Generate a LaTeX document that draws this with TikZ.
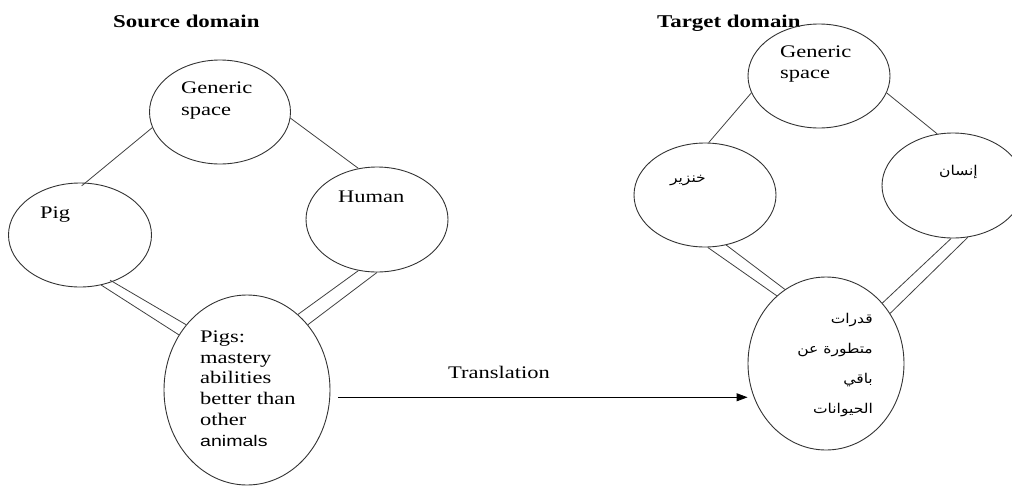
\documentclass[tikz,border=0pt]{standalone}
\usepackage{fontspec}
\setmainfont{Liberation Serif}[FakeStretch=1.27]
\newfontfamily\labelsans{Liberation Sans}[FakeStretch=1.27]
\newfontfamily\arabicfont[Script=Arabic,FakeStretch=1.15]{DejaVu Sans}
\TeXXeTstate=1
\usetikzlibrary{shapes.geometric,arrows.meta}

\begin{document}
\begin{tikzpicture}[x=1pt,y=-1pt,
  bubble/.style={draw=black!80, line width=0.9pt, ellipse, inner sep=0pt},
  link/.style={draw=black!75, line width=0.8pt},
  txt/.style={anchor=base west, inner sep=0pt, font=\fontsize{17.7}{20}\selectfont},
  head/.style={anchor=base west, inner sep=0pt, font=\fontsize{18}{20}\selectfont\bfseries},
  artxt/.style={anchor=base east, inner sep=0pt, font=\arabicfont\fontsize{13.5}{16}\selectfont},
  flow/.style={draw=black, line width=0.9pt, -{Triangle[length=11pt,width=8pt]}}
]
\useasboundingbox (0,0) rectangle (1012,485);

% ---------- source domain ----------
\node[head] (srchead) at (113,27) {Source domain};

\node[bubble, minimum width=141pt, minimum height=104pt] (gen1) at (220,112) {};
\node[bubble, minimum width=143pt, minimum height=104pt] (pig)  at (80,235) {};
\node[bubble, minimum width=142pt, minimum height=105pt] (hum)  at (377,219.5) {};
\node[bubble, minimum width=166pt, minimum height=190pt] (pigs) at (247,390) {};

\node[txt] (gen1a) at (181,93)  {Generic};
\node[txt] (gen1b) at (181,115) {space};
\node[txt] (pigt)  at (40,218)  {Pig};
\node[txt] (humt)  at (338,202) {Human};

\node[txt] (pl1) at (200,342) {Pigs:};
\node[txt] (pl2) at (200,363) {mastery};
\node[txt] (pl3) at (200,383) {abilities};
\node[txt] (pl4) at (200,404) {better than};
\node[txt] (pl5) at (200,425) {other};
\node[txt, font=\labelsans\fontsize{15.4}{18}\selectfont] (pl6) at (200,446) {animals};

% single links to the generic space
\draw[link, shorten >=-5pt] (gen1.193) -- (pig.84);
\draw[link] (gen1.355) -- (hum.110);

% double links to the blend
\draw[link, shorten <=-3pt] (pig.305) -- (pigs.133);
\draw[link] (pig.293) -- (pigs.141);
\draw[link] (hum.250) -- (pigs.56);
\draw[link] (hum.270) -- (pigs.47);

% ---------- target domain ----------
\node[head] (tgthead) at (657,27) {Target domain};

\node[bubble, minimum width=142pt, minimum height=104pt] (gen2) at (819,76) {};
\node[bubble, minimum width=142pt, minimum height=104pt] (khz)  at (705,195) {};
\node[bubble, minimum width=142pt, minimum height=105pt] (ins)  at (953,185.5) {};
\node[bubble, minimum width=156pt, minimum height=173pt] (tgt)  at (826,363.5) {};

\node[txt] (gen2a) at (780,57) {Generic};
\node[txt] (gen2b) at (780,78) {space};
\node[artxt] (khzt) at (706,182) {\beginR خنزير\endR};
\node[artxt] (inst) at (978,175) {\beginR إنسان\endR};

\node[artxt] (al1) at (873,323) {\beginR قدرات\endR};
\node[artxt] (al2) at (873,353) {\beginR متطورة عن\endR};
\node[artxt] (al3) at (873,383) {\beginR باقي\endR};
\node[artxt] (al4) at (873,413) {\beginR الحيوانات\endR};

\draw[link] (gen2.194) -- (khz.86);
\draw[link] (gen2.346) -- (ins.107);

\draw[link] (khz.273) -- (tgt.126);
\draw[link] (khz.293) -- (tgt.119);
\draw[link] (ins.268) -- (tgt.47);
\draw[link] (ins.286) -- (tgt.38);

% ---------- translation arrow ----------
\draw[flow, shorten <=8pt] (pigs.-5) -- (pigs.-5 -| tgt.west);
\node[txt] (transl) at (448,378) {Translation};

\end{tikzpicture}
\end{document}
